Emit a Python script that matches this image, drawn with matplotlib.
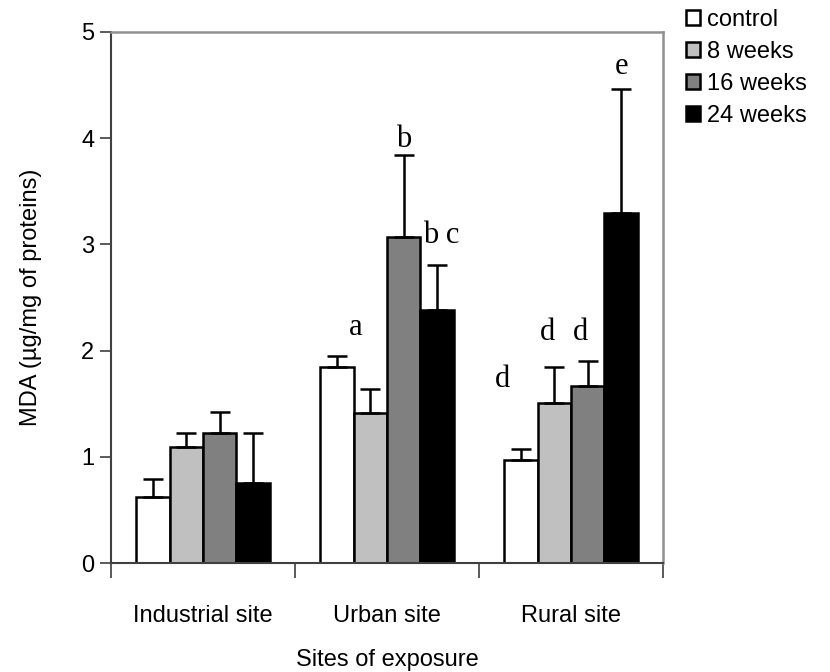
"""
MDA levels by site of exposure, grouped bars with upward error bars
and significance letters.
"""
import matplotlib
matplotlib.use("Agg")
import matplotlib.pyplot as plt
import numpy as np
from matplotlib.patches import Patch

SITES = ["Industrial site", "Urban site", "Rural site"]
SERIES = ["control", "8 weeks", "16 weeks", "24 weeks"]
COLORS = ["#FFFFFF", "#C0C0C0", "#808080", "#000000"]

# means per series (rows) across sites (columns)
MEANS = [
    [0.62, 1.85, 0.97],
    [1.09, 1.41, 1.51],
    [1.22, 3.07, 1.67],
    [0.75, 2.38, 3.30],
]
# upper error (SD) per series across sites
ERRS = [
    [0.17, 0.10, 0.10],
    [0.13, 0.23, 0.34],
    [0.20, 0.77, 0.23],
    [0.47, 0.43, 1.16],
]

# significance letters: (text, site index, series index, x nudge, y)
LETTERS = [
    ("a", 1, 0, 0.105, 2.15),
    ("b", 1, 2, 0.0, 3.92),
    ("b c", 1, 3, 0.02, 3.01),
    ("d", 2, 0, -0.10, 1.66),
    ("d", 2, 1, -0.035, 2.10),
    ("d", 2, 2, -0.04, 2.10),
    ("e", 2, 3, 0.0, 4.60),
]

SANS = "Liberation Sans"
SERIF = "Liberation Serif"
FS = 17
W = 0.182

fig = plt.figure(figsize=(8.3, 6.72), dpi=100)
ax = fig.add_axes([111 / 830, 1 - 563 / 672, (663 - 111) / 830, (563 - 32) / 672])

x = np.arange(len(SITES))
offsets = (np.arange(len(SERIES)) - 1.5) * W
for i, name in enumerate(SERIES):
    ax.bar(x + offsets[i], MEANS[i], width=W, color=COLORS[i],
           edgecolor="black", linewidth=1.8, zorder=2)
    ax.errorbar(x + offsets[i], MEANS[i],
                yerr=[np.zeros(len(SITES)), ERRS[i]],
                fmt="none", ecolor="black", elinewidth=1.8,
                capsize=7.5, capthick=1.8, zorder=3)

for txt, si, ki, dx, y in LETTERS:
    ax.text(x[si] + offsets[ki] + dx, y, txt, ha="center", va="baseline",
            family=SERIF, fontsize=22)

ax.set_xlim(-0.5, 2.5)
ax.set_ylim(0, 5)
ax.set_yticks(range(6))
ax.set_yticklabels([str(v) for v in range(6)], family=SANS, fontsize=FS)
ax.tick_params(axis="y", direction="out", length=8, width=1.2,
               color="#404040", pad=4)

ax.set_xticks([-0.5, 0.5, 1.5, 2.5])
ax.set_xticklabels([])
ax.tick_params(axis="x", which="major", direction="out", length=11,
               width=1.2, color="#404040")
ax.set_xticks(x, minor=True)
ax.set_xticklabels(SITES, minor=True, family=SANS, fontsize=FS)
ax.tick_params(axis="x", which="minor", length=0, pad=30)

ax.set_xlabel("Sites of exposure", family=SANS, fontsize=FS, labelpad=16)
ax.set_ylabel("MDA (µg/mg of proteins)", family=SANS, fontsize=FS, labelpad=28)

for side in ["left", "bottom"]:
    ax.spines[side].set_color("#404040")
    ax.spines[side].set_linewidth(1.5)
for side in ["top", "right"]:
    ax.spines[side].set_color("#909090")
    ax.spines[side].set_linewidth(1.8)

handles = [Patch(facecolor=c, edgecolor="black", linewidth=1.8) for c in COLORS]
fig.legend(handles, SERIES, loc="upper left",
           bbox_to_anchor=(686 / 830, 1 - 9 / 672), frameon=False,
           prop={"family": SANS, "size": FS}, handlelength=0.6,
           handleheight=0.6, handletextpad=0.3, labelspacing=0.42,
           borderpad=0, borderaxespad=0)

fig.savefig("out.png", dpi=100)
